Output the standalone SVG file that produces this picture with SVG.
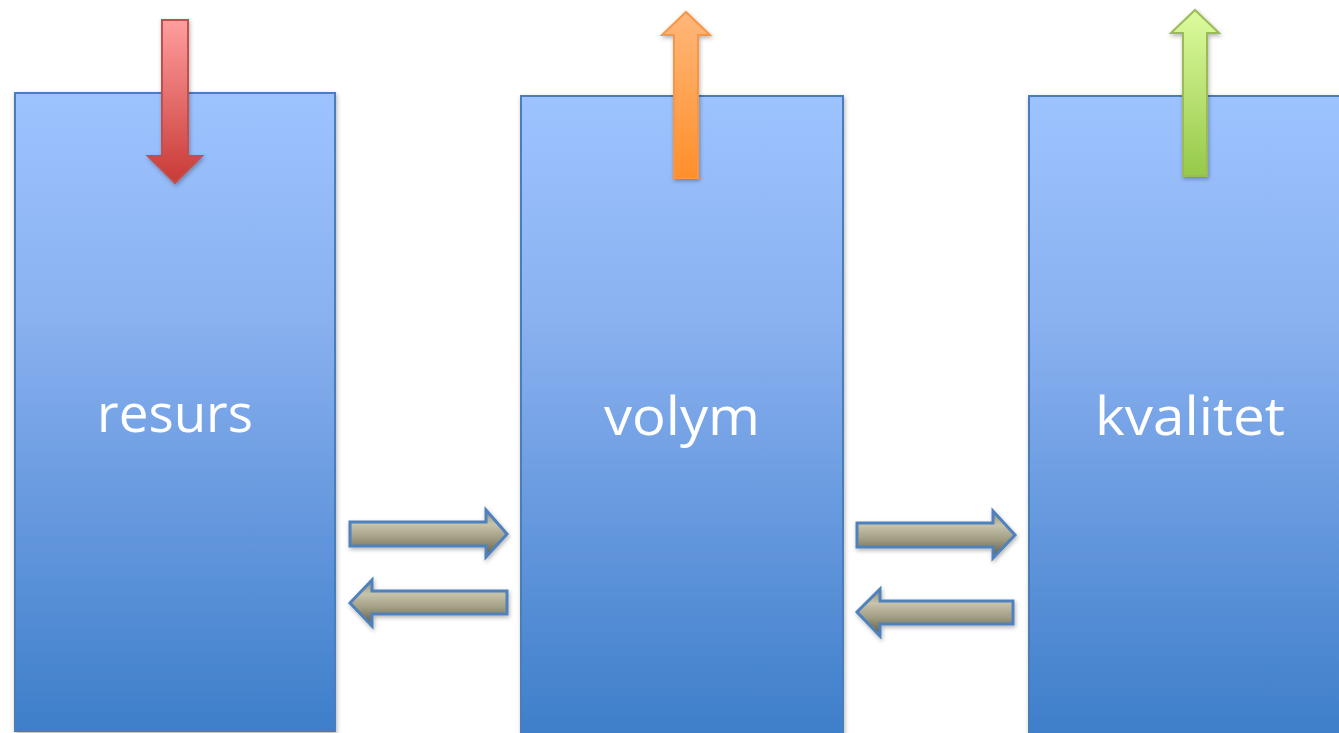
<svg xmlns="http://www.w3.org/2000/svg" width="1339" height="733" viewBox="0 0 1339 733">
<defs>
<linearGradient id="boxg" x1="0" y1="0" x2="0" y2="1">
<stop offset="0" stop-color="#9DC3FF"/>
<stop offset="0.35" stop-color="#8AB1F0"/>
<stop offset="1" stop-color="#3E7ECA"/>
</linearGradient>
<linearGradient id="hg" x1="0" y1="0" x2="0" y2="1">
<stop offset="0" stop-color="#8E8A70"/>
<stop offset="0.3" stop-color="#C8C4AC"/>
<stop offset="0.6" stop-color="#A29E84"/>
<stop offset="1" stop-color="#5C5840"/>
</linearGradient>
<linearGradient id="redg" x1="0" y1="0" x2="0" y2="1">
<stop offset="0" stop-color="#FF9E9E"/>
<stop offset="1" stop-color="#C83A36"/>
</linearGradient>
<linearGradient id="orgg" x1="0" y1="0" x2="0" y2="1">
<stop offset="0" stop-color="#FFB77A"/>
<stop offset="1" stop-color="#FF8F2B"/>
</linearGradient>
<linearGradient id="grng" x1="0" y1="0" x2="0" y2="1">
<stop offset="0" stop-color="#DDFB9E"/>
<stop offset="1" stop-color="#96C94A"/>
</linearGradient>
<filter id="sh" x="-20%" y="-20%" width="140%" height="140%">
<feDropShadow dx="1" dy="2" stdDeviation="2" flood-color="#000" flood-opacity="0.3"/>
</filter>
</defs>
<style>
.box{fill:url(#boxg);stroke:#4A7EBB;stroke-width:2;filter:url(#sh)}
.lbl{font-family:"Open Sans","Liberation Sans",sans-serif;font-size:53px;fill:#FFFFFF;text-anchor:middle}
.harr{fill:url(#hg);stroke:#4F81BD;stroke-width:3;stroke-linejoin:miter;filter:url(#sh)}
.varr{stroke-width:2;filter:url(#sh)}
</style>
<rect width="1339" height="733" fill="#FFFFFF"/>
<g id="resurs">
<rect class="box" x="15" y="93" width="320" height="638"/>
<text class="lbl" x="175" y="432" textLength="156" lengthAdjust="spacingAndGlyphs">resurs</text>
</g>
<g id="volym">
<rect class="box" x="521" y="96" width="322" height="640"/>
<text class="lbl" x="682" y="435" textLength="156" lengthAdjust="spacingAndGlyphs">volym</text>
</g>
<g id="kvalitet">
<rect class="box" x="1029" y="96" width="320" height="640"/>
<text class="lbl" x="1190" y="435" textLength="190" lengthAdjust="spacingAndGlyphs">kvalitet</text>
</g>
<g id="connectors">
<path class="varr" fill="url(#redg)" stroke="#C0504D" d="M162,20 H188 V156 H202 L175,183 L148,156 H162 Z"/>
<path class="varr" fill="url(#orgg)" stroke="#F79646" d="M674,178 H698 V35 H710 L686,12 L662,35 H674 Z"/>
<path class="varr" fill="url(#grng)" stroke="#9BBB59" d="M1183,176 H1207 V33 H1219 L1195,10 L1171,33 H1183 Z"/>
<path class="harr" d="M350,522 H486 V510 L507,534 L486,557 V546 H350 Z"/>
<path class="harr" d="M507,591 H372 V580 L350,603 L372,626 V614 H507 Z"/>
<path class="harr" d="M857,523 H993 V511 L1015,535 L993,558 V547 H857 Z"/>
<path class="harr" d="M1013,601 H880 V589 L857,612 L880,636 V624 H1013 Z"/>
</g>
</svg>
